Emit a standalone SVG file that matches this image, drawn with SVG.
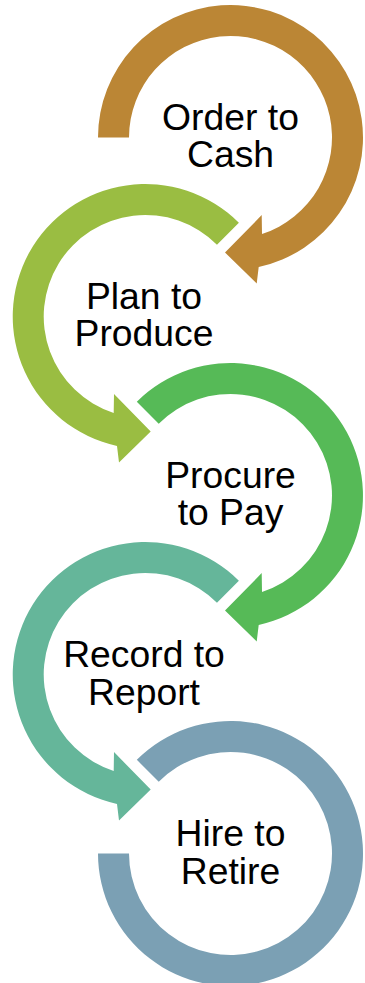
<svg xmlns="http://www.w3.org/2000/svg" xmlns:xlink="http://www.w3.org/1999/xlink" width="365" height="983" viewBox="0 0 365 983">
<style>
text{font-family:"Liberation Sans",Arial,sans-serif;font-size:37.3px;fill:#000;text-anchor:middle}
</style>
<defs>
<path id="arcFirst" d="M -132.5 0 A 132.5 132.5 0 1 1 28.2 129.5 L 26.2 146 L -5.5 115 L 31.2 77.6 L 31.5 96.5 A 101.5 101.5 0 1 0 -101.5 0 Z"/>
<path id="arcMid" d="M -93.69 -93.69 A 132.5 132.5 0 1 1 28.2 129.5 L 26.2 146 L -5.5 115 L 31.2 77.6 L 31.5 96.5 A 101.5 101.5 0 1 0 -71.77 -71.77 Z"/>
<path id="arcLast" d="M -93.69 -93.69 A 132.5 132.5 0 1 1 -132.5 0 L -101.5 0 A 101.5 101.5 0 1 0 -71.77 -71.77 Z"/>
</defs>
<rect width="365" height="983" fill="#fff"/>
<g id="connectors"></g>
<g id="node1">
<use xlink:href="#arcFirst" href="#arcFirst" transform="translate(230.5,137.5)" fill="#BB8635"/>
<text x="230.5" y="130"><tspan x="230.5">Order to</tspan><tspan x="230.5" dy="37">Cash</tspan></text>
</g>
<g id="node2">
<use xlink:href="#arcMid" href="#arcMid" transform="translate(145.2,316.5) scale(-1,1)" fill="#9ABD42"/>
<text x="144" y="309.3"><tspan x="144">Plan to</tspan><tspan x="144" dy="36.7">Produce</tspan></text>
</g>
<g id="node3">
<use xlink:href="#arcMid" href="#arcMid" transform="translate(230.5,495.5)" fill="#56BA57"/>
<text x="230.5" y="488"><tspan x="230.5">Procure</tspan><tspan x="230.5" dy="37">to Pay</tspan></text>
</g>
<g id="node4">
<use xlink:href="#arcMid" href="#arcMid" transform="translate(145.2,674.5) scale(-1,1)" fill="#65B69A"/>
<text x="144" y="667"><tspan x="144">Record to</tspan><tspan x="144" dy="37.5">Report</tspan></text>
</g>
<g id="node5">
<use xlink:href="#arcLast" href="#arcLast" transform="translate(230.5,853.5)" fill="#7BA0B4"/>
<text x="230.5" y="846"><tspan x="230.5">Hire to</tspan><tspan x="230.5" dy="37.5">Retire</tspan></text>
</g>
</svg>
